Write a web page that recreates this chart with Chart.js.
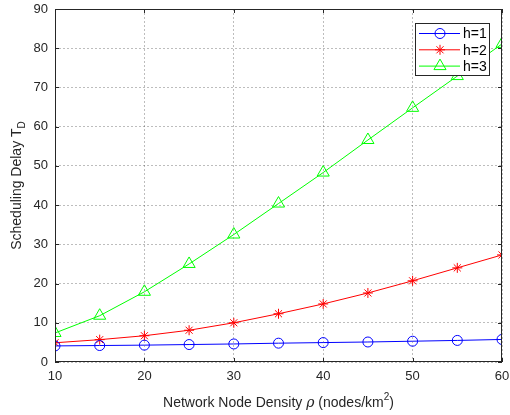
<!DOCTYPE html>
<html>
<head>
<meta charset="utf-8">
<script src="https://cdn.jsdelivr.net/npm/chart.js@4.4.0/dist/chart.umd.min.js"></script>
<style>
  html, body { margin: 0; padding: 0; background: #fff; }
  #wrap { width: 510px; height: 415px; }
</style>
</head>
<body>
<div id="wrap"><canvas id="delayChart" width="510" height="415"></canvas></div>
<script>
// data
const density = [10, 15, 20, 25, 30, 35, 40, 45, 50, 55, 60];
const delayH1 = [4.1, 4.2, 4.3, 4.45, 4.6, 4.8, 4.95, 5.1, 5.3, 5.5, 5.75];
const delayH2 = [4.9, 5.7, 6.7, 8.1, 10.0, 12.3, 14.8, 17.6, 20.7, 24.0, 27.3];
const delayH3 = [7.4, 11.8, 17.9, 25.0, 32.5, 40.4, 48.3, 56.6, 64.8, 72.9, 81.1];
const seriesLabels = ["h=1", "h=2", "h=3"];
const xTicks = [10, 20, 30, 40, 50, 60];
const yTicks = [0, 10, 20, 30, 40, 50, 60, 70, 80, 90];

const axisColor = "#262626";
const font = "Liberation Sans, Arial, Helvetica, sans-serif";

function toPoints(ys) {
    return density.map((x, i) => ({ x, y: ys[i] }));
}

// marker drawing for the legend (matlab style open markers)
function drawMarker(ctx, style, x, y, r, color) {
    ctx.save();
    ctx.strokeStyle = color;
    ctx.lineWidth = 1;
    ctx.beginPath();
    if (style === "circle") {
        ctx.arc(x, y, r, 0, Math.PI * 2);
    } else if (style === "triangle") {
        for (let k = 0; k < 3; k++) {
            const a = k * 2 * Math.PI / 3;
            const px = x + Math.sin(a) * r, py = y - Math.cos(a) * r;
            if (k === 0) ctx.moveTo(px, py); else ctx.lineTo(px, py);
        }
        ctx.closePath();
    } else if (style === "star") {
        for (let k = 0; k < 4; k++) {
            const a = k * Math.PI / 4;
            ctx.moveTo(x - Math.cos(a) * r, y - Math.sin(a) * r);
            ctx.lineTo(x + Math.cos(a) * r, y + Math.sin(a) * r);
        }
    }
    ctx.stroke();
    ctx.restore();
}

const matlabFrame = {
    id: "matlabFrame",
    afterDraw(chart) {
        const { ctx, chartArea: a, scales } = chart;
        ctx.save();
        // box + inward ticks
        ctx.strokeStyle = axisColor;
        ctx.lineWidth = 1;
        ctx.strokeRect(a.left + 0.5, a.top + 0.5, a.right - a.left - 1, a.bottom - a.top - 1);
        ctx.beginPath();
        xTicks.forEach(v => {
            const px = Math.round(scales.x.getPixelForValue(v)) + 0.5;
            ctx.moveTo(px, a.bottom); ctx.lineTo(px, a.bottom - 4);
            ctx.moveTo(px, a.top); ctx.lineTo(px, a.top + 4);
        });
        yTicks.forEach(v => {
            const py = Math.round(scales.y.getPixelForValue(v)) + 0.5;
            ctx.moveTo(a.left, py); ctx.lineTo(a.left + 4, py);
            ctx.moveTo(a.right, py); ctx.lineTo(a.right - 4, py);
        });
        ctx.stroke();

        // axis titles
        ctx.fillStyle = axisColor;
        ctx.textBaseline = "alphabetic";
        const parts = [
            { t: "Network Node Density ", f: "14px " + font, dy: 0 },
            { t: "\u03C1", f: "italic 14px DejaVu Serif, serif", dy: 0 },
            { t: " (nodes/km", f: "14px " + font, dy: 0 },
            { t: "2", f: "10px " + font, dy: -7 },
            { t: ")", f: "14px " + font, dy: 0 },
        ];
        let total = 0;
        parts.forEach(p => { ctx.font = p.f; p.w = ctx.measureText(p.t).width; total += p.w; });
        let x = (a.left + a.right) / 2 - total / 2;
        parts.forEach(p => {
            ctx.font = p.f;
            ctx.fillText(p.t, x, 407 + p.dy);
            x += p.w;
        });

        ctx.save();
        ctx.translate(21, (a.top + a.bottom) / 2);
        ctx.rotate(-Math.PI / 2);
        ctx.font = "14px " + font;
        const main = "Scheduling Delay T";
        const mw = ctx.measureText(main).width;
        ctx.font = "10px " + font;
        const sw = ctx.measureText("D").width;
        const sx = -(mw + sw) / 2;
        ctx.font = "14px " + font;
        ctx.fillText(main, sx, 0);
        ctx.font = "10px " + font;
        ctx.fillText("D", sx + mw, 4);
        ctx.restore();

        // legend
        const lx = 415, ly = 23, lw = 74, lh = 52;
        ctx.fillStyle = "#fff";
        ctx.fillRect(lx, ly, lw, lh);
        ctx.strokeStyle = axisColor;
        ctx.strokeRect(lx + 0.5, ly + 0.5, lw, lh);
        chart.data.datasets.forEach((ds, i) => {
            const ry = ly + 10.5 + i * 16.3;
            ctx.strokeStyle = ds.borderColor;
            ctx.lineWidth = 1;
            ctx.beginPath();
            ctx.moveTo(lx + 4, ry); ctx.lineTo(lx + 45, ry);
            ctx.stroke();
            drawMarker(ctx, ds.pointStyle, lx + 25, ry, ds.pointRadius, ds.borderColor);
            ctx.fillStyle = "#000";
            ctx.font = "14px " + font;
            ctx.textBaseline = "middle";
            ctx.fillText(ds.label, lx + 48, ry + 1);
        });
        ctx.restore();
    }
};

const datasets = [
    { label: seriesLabels[0], data: toPoints(delayH1), borderColor: "#0000ff", pointStyle: "circle", pointRadius: 5 },
    { label: seriesLabels[1], data: toPoints(delayH2), borderColor: "#ff0000", pointStyle: "star", pointRadius: 5 },
    { label: seriesLabels[2], data: toPoints(delayH3), borderColor: "#00ff00", pointStyle: "triangle", pointRadius: 7 },
].map(d => Object.assign(d, {
    borderWidth: 1,
    pointBorderWidth: 1,
    pointBorderColor: d.borderColor,
    pointBackgroundColor: "rgba(0,0,0,0)",
    pointHoverRadius: d.pointRadius,
    tension: 0,
    fill: false,
}));

new Chart(document.getElementById("delayChart").getContext("2d"), {
    type: "line",
    data: { datasets },
    options: {
        responsive: false,
        animation: false,
        layout: { padding: { top: 9, right: 7, left: 0, bottom: 0 } },
        plugins: { legend: { display: false }, tooltip: { enabled: false } },
        scales: {
            x: {
                type: "linear",
                min: 10, max: 60,
                afterFit: s => { s.height = 53; s.paddingLeft = 0; s.paddingRight = 0; },
                afterBuildTicks: s => { s.ticks = xTicks.map(v => ({ value: v })); },
                ticks: { color: axisColor, font: { family: font, size: 13 }, padding: 7, maxRotation: 0 },
                grid: { color: "rgba(38,38,38,0.3)", drawTicks: false },
                border: { display: false, dash: [2, 2] },
            },
            y: {
                min: 0, max: 90,
                afterFit: s => { s.width = 55; s.paddingTop = 0; s.paddingBottom = 0; },
                afterBuildTicks: s => { s.ticks = yTicks.map(v => ({ value: v })); },
                ticks: { color: axisColor, font: { family: font, size: 13 }, padding: 7 },
                grid: { color: "rgba(38,38,38,0.3)", drawTicks: false },
                border: { display: false, dash: [2, 2] },
            },
        },
    },
    plugins: [matlabFrame],
});
</script>
</body>
</html>
